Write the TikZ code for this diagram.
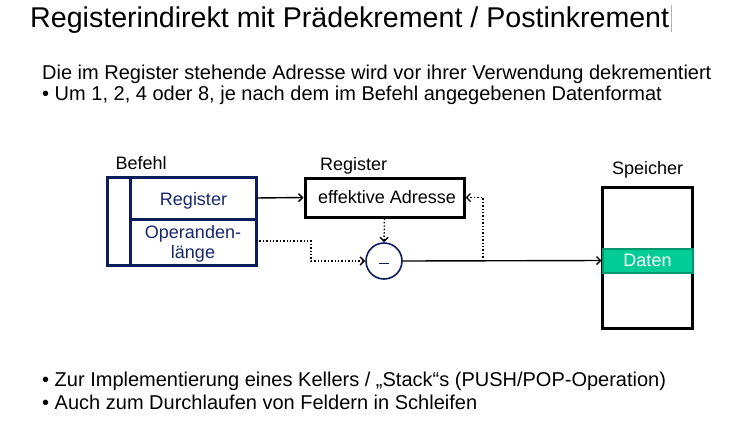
\documentclass[tikz,border=0pt]{standalone}
\usepackage{fontspec}
\setmainfont{Liberation Sans}
\usetikzlibrary{arrows.meta}
\definecolor{navy}{RGB}{12,30,92}
\definecolor{txtblue}{RGB}{22,40,110}
\definecolor{datfill}{RGB}{0,204,150}
\definecolor{datdraw}{RGB}{0,150,110}
\tikzset{
  txt/.style={inner sep=0pt, anchor=base west},
  ttl/.style={txt, font=\fontsize{28.6}{32}\selectfont},
  body/.style={txt, font=\fontsize{20}{24}\selectfont},
  lbl/.style={inner sep=0pt, anchor=base, font=\fontsize{18}{21}\selectfont},
  arr/.style={-{Straight Barb[length=4pt,width=8pt,line width=1.4pt]}, line width=1.4pt},
  darr/.style={arr, dotted},
}
\begin{document}
\begin{tikzpicture}[x=1pt,y=-1pt]
\useasboundingbox (0,0) rectangle (735,429);
\fill[white] (0,0) rectangle (735,429);
% texts
\node[ttl] (title) at (30,27.3) {Registerindirekt mit Prädekrement / Postinkrement};
\draw[gray!60, line width=0.8pt] (671,5) -- (671,32);
\node[body] (l1) at (42,79.5) {Die im Register stehende Adresse wird vor ihrer Verwendung dekrementiert};
\node[body] (l2) at (42,100.5) {• Um 1, 2, 4 oder 8, je nach dem im Befehl angegebenen Datenformat};
\node[body] (l3) at (42,386) {• Zur Implementierung eines Kellers / „Stack“s (PUSH/POP-Operation)};
\node[body] (l4) at (42,409.5) {• Auch zum Durchlaufen von Feldern in Schleifen};
% Befehl
\node[lbl, anchor=base west] (befehl) at (115.5,169) {Befehl};
\draw[navy, line width=3pt] (107,177) rectangle (256,265);
\draw[navy, line width=3pt] (130,177) -- (130,265);
\draw[navy, line width=3pt] (130,219.5) -- (256,219.5);
\node[lbl, text=txtblue] (breg) at (193.5,205) {Register};
\node[lbl, text=txtblue] (bop1) at (193,238.5) {Operanden-};
\node[lbl, text=txtblue] (bop2) at (193,258.5) {länge};
\coordinate (bregR) at (256,198);
\coordinate (bopR) at (256,241);
% Register
\node[lbl, anchor=base west] (reglbl) at (320,170.7) {Register};
\node[draw, line width=3pt, minimum width=159pt, minimum height=39pt, inner sep=0pt] (ea) at (384.5,197.5) {};
\node[lbl, anchor=base west] (eatxt) at (318,203.3) {effektive Adresse};
% minus circle
\node[circle, draw=navy, line width=1.6pt, minimum size=36pt, inner sep=0pt] (minus) at (384,261) {};
\draw[navy, line width=1pt] (379,263) -- (389,263);
% Speicher
\node[lbl, anchor=base west] (speilbl) at (612,174) {Speicher};
\draw[line width=3pt] (602.5,187) rectangle (692.5,328);
\node[fill=datfill, draw=datdraw, line width=2pt, minimum width=90pt, minimum height=24pt, inner sep=0pt] (daten) at (647.5,260.5) {};
\node[lbl, text=white] (datentxt) at (647.5,266.7) {Daten};
% connectors
\draw[arr] (bregR) -- (ea.west);
\draw[darr] (ea.south) -- (minus.north);
\draw[darr] (bopR) -- (311,241) -- (311,261) -- (minus.west);
\draw[arr] (minus.east) -- (daten.west);
\coordinate (up) at (483,261);
\draw[darr] (up) -- (483,197.5) -- (ea.east);
\end{tikzpicture}
\end{document}
